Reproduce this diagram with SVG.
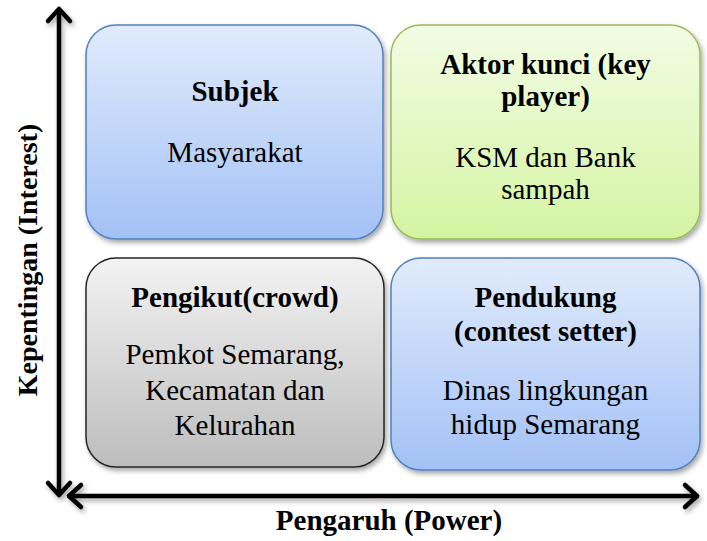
<svg xmlns="http://www.w3.org/2000/svg" width="707" height="541" viewBox="0 0 707 541">
<defs>
<linearGradient id="gBlue" x1="0" y1="0" x2="0" y2="1">
<stop offset="0" stop-color="#e1ebfc"/>
<stop offset="1" stop-color="#a3c1f6"/>
</linearGradient>
<linearGradient id="gGreen" x1="0" y1="0" x2="0" y2="1">
<stop offset="0" stop-color="#f2fce4"/>
<stop offset="1" stop-color="#d4f4a2"/>
</linearGradient>
<linearGradient id="gGray" x1="0" y1="0" x2="0" y2="1">
<stop offset="0" stop-color="#f3f3f3"/>
<stop offset="1" stop-color="#bdbdbd"/>
</linearGradient>
<filter id="sh" x="-10%" y="-10%" width="130%" height="130%">
<feDropShadow dx="2" dy="3" stdDeviation="2.5" flood-color="#000" flood-opacity="0.35"/>
</filter>
</defs>
<rect width="707" height="541" fill="#fff"/>
<g id="connectors" filter="url(#sh)" fill="none" stroke="#000" stroke-width="4.5" stroke-linecap="round" stroke-linejoin="round">
<path d="M59 10 V494"/>
<path d="M48 21 L59 9 L70 21"/>
<path d="M48 483 L59 495 L70 483"/>
<path d="M69 496 H697"/>
<path d="M81 485 L69 496 L81 507"/>
<path d="M685 485 L697 496 L685 507"/>
</g>
<g font-family="Liberation Serif" font-size="29" text-anchor="middle" fill="#000">
<g id="subjek">
<rect x="86" y="25" width="297" height="214" rx="30" fill="url(#gBlue)" stroke="#4f81bd" stroke-width="1.5" filter="url(#sh)"/>
<text font-weight="bold" x="235" y="101">Subjek</text>
<text x="235" y="162">Masyarakat</text>
</g>
<g id="aktor-kunci">
<rect x="391" y="25" width="309" height="214" rx="30" fill="url(#gGreen)" stroke="#9bbb59" stroke-width="1.5" filter="url(#sh)"/>
<text font-weight="bold" x="545.5" y="74">Aktor kunci (key</text>
<text font-weight="bold" x="545.5" y="106">player)</text>
<text x="545.5" y="167">KSM dan Bank</text>
<text x="545.5" y="199">sampah</text>
</g>
<g id="pengikut">
<rect x="86" y="258" width="298" height="209" rx="30" fill="url(#gGray)" stroke="#262626" stroke-width="1.5" filter="url(#sh)"/>
<text font-weight="bold" x="235" y="307">Pengikut(crowd)</text>
<text x="235" y="364">Pemkot Semarang,</text>
<text x="235" y="400">Kecamatan dan</text>
<text x="235" y="435">Kelurahan</text>
</g>
<g id="pendukung">
<rect x="391" y="258" width="309" height="212" rx="30" fill="url(#gBlue)" stroke="#4f81bd" stroke-width="1.5" filter="url(#sh)"/>
<text font-weight="bold" x="545.5" y="307">Pendukung</text>
<text font-weight="bold" x="545.5" y="341">(contest setter)</text>
<text x="545.5" y="400">Dinas lingkungan</text>
<text x="545.5" y="434">hidup Semarang</text>
</g>
<g id="axis-labels" font-weight="bold">
<text x="389" y="530">Pengaruh (Power)</text>
<text font-size="28" transform="translate(37 260) rotate(-90)">Kepentingan (Interest)</text>
</g>
</g>
</svg>
